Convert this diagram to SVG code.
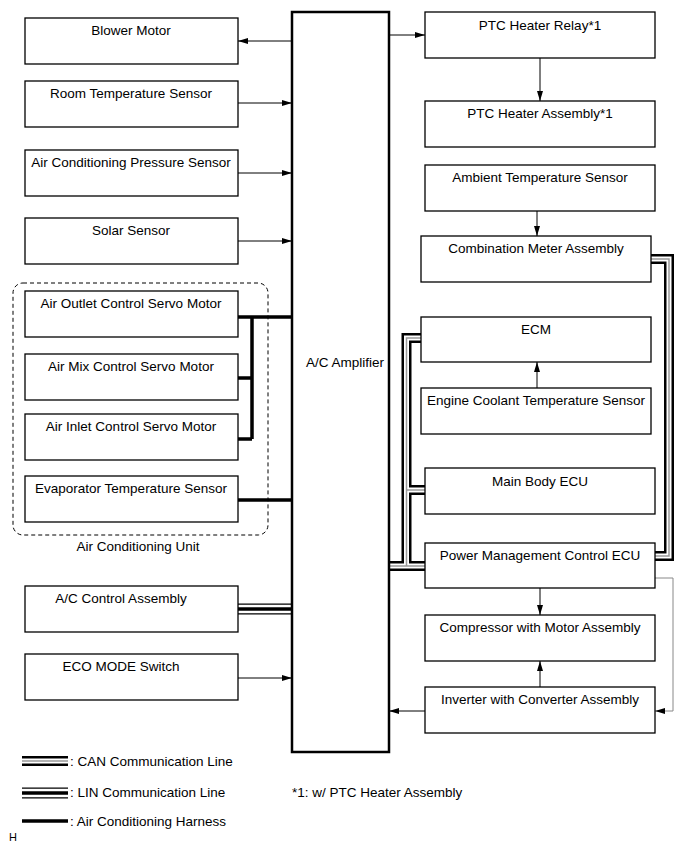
<svg xmlns="http://www.w3.org/2000/svg" width="691" height="854" viewBox="0 0 691 854">
<defs>
<style>
text{font-family:"Liberation Sans",Arial,sans-serif;font-size:13.5px;fill:#000}
.c{text-anchor:middle}
.box{fill:#fff;stroke:#000;stroke-width:1.3}
.amp{fill:#fff;stroke:#000;stroke-width:2.5}
.ln{fill:none;stroke:#000;stroke-width:1}
.gr{fill:none;stroke:#888;stroke-width:1}
.hn{fill:none;stroke:#000;stroke-width:3.5}
.canA{fill:none;stroke:#000;stroke-width:10}
.canB{fill:none;stroke:#fff;stroke-width:5}
.canC{fill:none;stroke:#999;stroke-width:1.5}
.linA{fill:none;stroke:#000;stroke-width:11}
.linB{fill:none;stroke:#fff;stroke-width:8.5}
.linC{fill:none;stroke:#000;stroke-width:3.5}
</style>
<marker id="ah" viewBox="0 0 10 6" refX="10" refY="3" markerWidth="10" markerHeight="6" orient="auto" markerUnits="userSpaceOnUse"><path d="M0,0 L10,3 L0,6 z" fill="#000"/></marker>
</defs>
<rect width="691" height="854" fill="#fff"/>

<rect x="13" y="283" width="255" height="252" rx="10" fill="none" stroke="#000" stroke-width="1" stroke-dasharray="4,3"/>
<text class="c" x="138" y="551">Air Conditioning Unit</text>

<g id="connectors">
<path class="ln" d="M292 41 H238" marker-end="url(#ah)"/>
<path class="ln" d="M238 103 H292" marker-end="url(#ah)"/>
<path class="ln" d="M238 173 H292" marker-end="url(#ah)"/>
<path class="ln" d="M238 241 H292" marker-end="url(#ah)"/>
<path class="ln" d="M238 678 H292" marker-end="url(#ah)"/>
<path class="ln" d="M389 35 H425" marker-end="url(#ah)"/>
<path class="ln" d="M540 58 V101" marker-end="url(#ah)"/>
<path class="ln" d="M537 211 V236" marker-end="url(#ah)"/>
<path class="ln" d="M537 388 V362" marker-end="url(#ah)"/>
<path class="ln" d="M540 588 V615" marker-end="url(#ah)"/>
<path class="ln" d="M540 687 V661" marker-end="url(#ah)"/>
<path class="ln" d="M425 711 H389" marker-end="url(#ah)"/>
<path class="gr" d="M655 578 H673 V711 H655" marker-end="url(#ah)"/>
<path class="hn" d="M238 317 H292 M252 317 V439 M238 378 H252 M238 439 H252 M238 500 H292"/>
<path class="linA" d="M238 609 H292"/><path class="linB" d="M238 609 H292"/><path class="linC" d="M238 609 H292"/>
<g>
<path class="canA" d="M388 566 H425 M421 338 H406.5 V566 M406.5 490 H425 M651 259 H669 V556 H655"/>
<path class="canB" d="M388 566 H425 M421 338 H406.5 V566 M406.5 490 H425 M651 259 H669 V556 H655"/>
<path class="canC" d="M388 566 H425 M421 338 H406.5 V566 M406.5 490 H425 M651 259 H669 V556 H655"/>
</g>
</g>

<g id="amplifier"><rect class="amp" x="292" y="12" width="97" height="740"/><text x="306" y="367">A/C Amplifier</text></g>

<g id="blower"><rect class="box" x="25" y="18" width="213" height="46"/><text class="c" x="131" y="35">Blower Motor</text></g>
<g id="roomtemp"><rect class="box" x="25" y="81" width="213" height="46"/><text class="c" x="131" y="98">Room Temperature Sensor</text></g>
<g id="pressure"><rect class="box" x="25" y="150" width="213" height="46"/><text class="c" x="131" y="167">Air Conditioning Pressure Sensor</text></g>
<g id="solar"><rect class="box" x="25" y="218" width="213" height="46"/><text class="c" x="131" y="235">Solar Sensor</text></g>
<g id="outlet"><rect class="box" x="25" y="291" width="213" height="46"/><text class="c" x="131" y="308">Air Outlet Control Servo Motor</text></g>
<g id="airmix"><rect class="box" x="25" y="354" width="213" height="46"/><text class="c" x="131" y="371">Air Mix Control Servo Motor</text></g>
<g id="inlet"><rect class="box" x="25" y="414" width="213" height="46"/><text class="c" x="131" y="431">Air Inlet Control Servo Motor</text></g>
<g id="evap"><rect class="box" x="25" y="476" width="213" height="46"/><text class="c" x="131" y="493">Evaporator Temperature Sensor</text></g>
<g id="acctrl"><rect class="box" x="25" y="586" width="213" height="46"/><text class="c" x="121" y="603">A/C Control Assembly</text></g>
<g id="eco"><rect class="box" x="25" y="654" width="213" height="46"/><text class="c" x="121" y="671">ECO MODE Switch</text></g>

<g id="ptcrelay"><rect class="box" x="425" y="12" width="230" height="46"/><text class="c" x="540" y="30">PTC Heater Relay*1</text></g>
<g id="ptcassy"><rect class="box" x="425" y="101" width="230" height="46"/><text class="c" x="540" y="118">PTC Heater Assembly*1</text></g>
<g id="ambient"><rect class="box" x="425" y="165" width="230" height="46"/><text class="c" x="540" y="182">Ambient Temperature Sensor</text></g>
<g id="combmeter"><rect class="box" x="421" y="236" width="230" height="46"/><text class="c" x="536" y="253">Combination Meter Assembly</text></g>
<g id="ecm"><rect class="box" x="421" y="317" width="230" height="45"/><text class="c" x="536" y="334">ECM</text></g>
<g id="coolant"><rect class="box" x="421" y="388" width="230" height="46"/><text class="c" x="536" y="405">Engine Coolant Temperature Sensor</text></g>
<g id="mainbody"><rect class="box" x="425" y="468" width="230" height="46"/><text class="c" x="540" y="486">Main Body ECU</text></g>
<g id="pmc"><rect class="box" x="425" y="543" width="230" height="45"/><text class="c" x="540" y="560">Power Management Control ECU</text></g>
<g id="compressor"><rect class="box" x="425" y="615" width="230" height="46"/><text class="c" x="540" y="632">Compressor with Motor Assembly</text></g>
<g id="inverter"><rect class="box" x="425" y="687" width="230" height="46"/><text class="c" x="540" y="704">Inverter with Converter Assembly</text></g>

<g id="legend">
<path class="canA" d="M22 761 H68"/><path class="canB" d="M22 761 H68"/><path class="canC" d="M22 761 H68"/>
<text x="70" y="766">: CAN Communication Line</text>
<path class="linA" d="M22 793 H68"/><path class="linB" d="M22 793 H68"/><path class="linC" d="M22 793 H68"/>
<text x="70" y="797">: LIN Communication Line</text>
<path class="hn" d="M22 821 H68"/>
<text x="70" y="826">: Air Conditioning Harness</text>
<text x="292" y="797">*1: w/ PTC Heater Assembly</text>
<text x="9" y="841" style="font-size:11px">H</text>
</g>
</svg>
